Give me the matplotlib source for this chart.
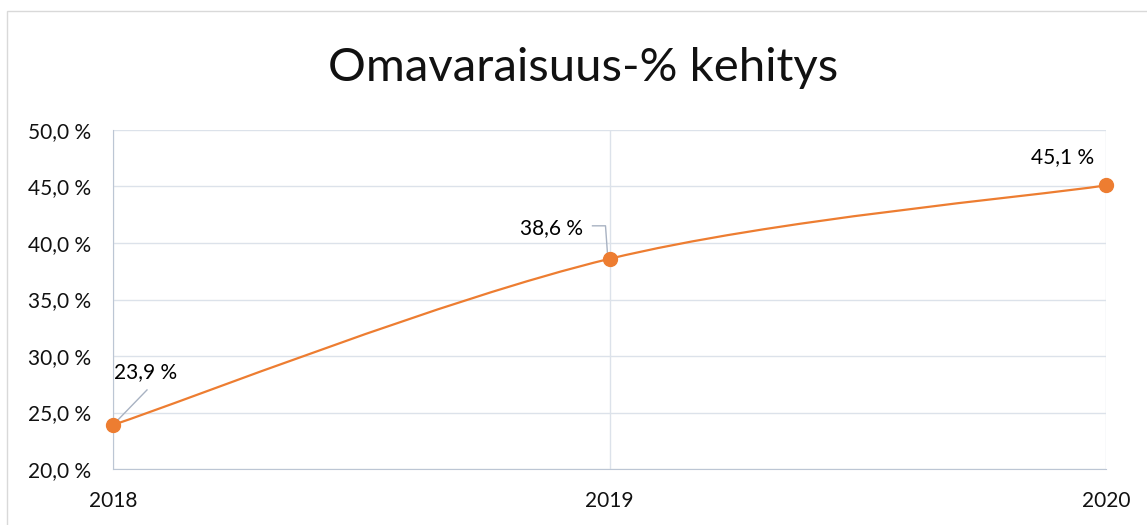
import matplotlib.pyplot as plt
import numpy as np
from matplotlib.path import Path
from matplotlib.patches import PathPatch, Rectangle

# data
years = ['2018', '2019', '2020']
values = [23.9, 38.6, 45.1]
labels = ['23,9 %', '38,6 %', '45,1 %']

orange = '#ED7D31'
grid_c = '#DCE2EA'
axis_c = '#BCC6D4'
lead_c = '#A8B2C2'

plt.rcParams['font.family'] = ['Lato', 'DejaVu Sans']

fig = plt.figure(figsize=(11.47, 5.25), dpi=100)
fig.patches.append(Rectangle((7 / 1147, -0.1), 1.2, (525 - 11) / 525 + 0.1,
                             transform=fig.transFigure, fill=False,
                             edgecolor='#D9D9D9', linewidth=1))
ax = fig.add_axes([113 / 1147, 56 / 525, 993 / 1147, 339 / 525])

x = np.arange(len(values))
y = np.array(values)

# smoothed line like Excel (Catmull-Rom -> Bezier)
verts = [(x[0], y[0])]
codes = [Path.MOVETO]
n = len(x)
for i in range(n - 1):
    p0 = np.array([x[max(i - 1, 0)], y[max(i - 1, 0)]])
    p1 = np.array([x[i], y[i]])
    p2 = np.array([x[i + 1], y[i + 1]])
    p3 = np.array([x[min(i + 2, n - 1)], y[min(i + 2, n - 1)]])
    c1 = p1 + (p2 - p0) / 6
    c2 = p2 - (p3 - p1) / 6
    verts += [tuple(c1), tuple(c2), tuple(p2)]
    codes += [Path.CURVE4] * 3
ax.add_patch(PathPatch(Path(verts, codes), fill=False, edgecolor=orange,
                       linewidth=1.6, zorder=3, clip_on=False))
ax.plot(x, y, 'o', color=orange, markersize=10, zorder=4, clip_on=False)

ax.set_xlim(0, 2)
ax.set_ylim(20, 50)
ax.set_yticks(np.arange(20, 51, 5))
ax.set_yticklabels([f'{v:.1f} %'.replace('.', ',') for v in np.arange(20, 51, 5)])
ax.set_xticks(x)
ax.set_xticklabels(years)
ax.grid(True, color=grid_c, linewidth=1)
ax.set_axisbelow(True)
for s in ['top', 'right']:
    ax.spines[s].set_visible(False)
ax.spines['left'].set_color(axis_c)
ax.spines['bottom'].set_color(axis_c)
ax.tick_params(length=0, labelsize=15, colors='#111111')
ax.tick_params(axis='y', pad=16)
ax.tick_params(axis='x', pad=16)


def leader(i, dx, dy):
    # leader line given in pixel offsets from the data point
    px, py = ax.transData.transform((x[i], y[i]))
    pts = np.column_stack([px + np.array(dx), py + np.array(dy)])
    ax.plot(*ax.transData.inverted().transform(pts).T, color=lead_c, lw=1,
            zorder=2, clip_on=False)


# data labels
ax.annotate(labels[0], (x[0], y[0]), xytext=(1, 53), textcoords='offset pixels',
            ha='left', va='center', fontsize=15)
leader(0, [2, 34], [2, 35])
ax.annotate(labels[1], (x[1], y[1]), xytext=(-26, 31), textcoords='offset pixels',
            ha='right', va='center', fontsize=15)
leader(1, [-17, -4, -2], [33, 33, 5])
ax.annotate(labels[2], (x[2], y[2]), xytext=(-12, 28), textcoords='offset pixels',
            ha='right', va='center', fontsize=15)

fig.text(583 / 1147, 1 - 68 / 525, 'Omavaraisuus-% kehitys', ha='center', va='center',
         fontsize=34, color='#111111')

fig.savefig('out.png', dpi=100)
